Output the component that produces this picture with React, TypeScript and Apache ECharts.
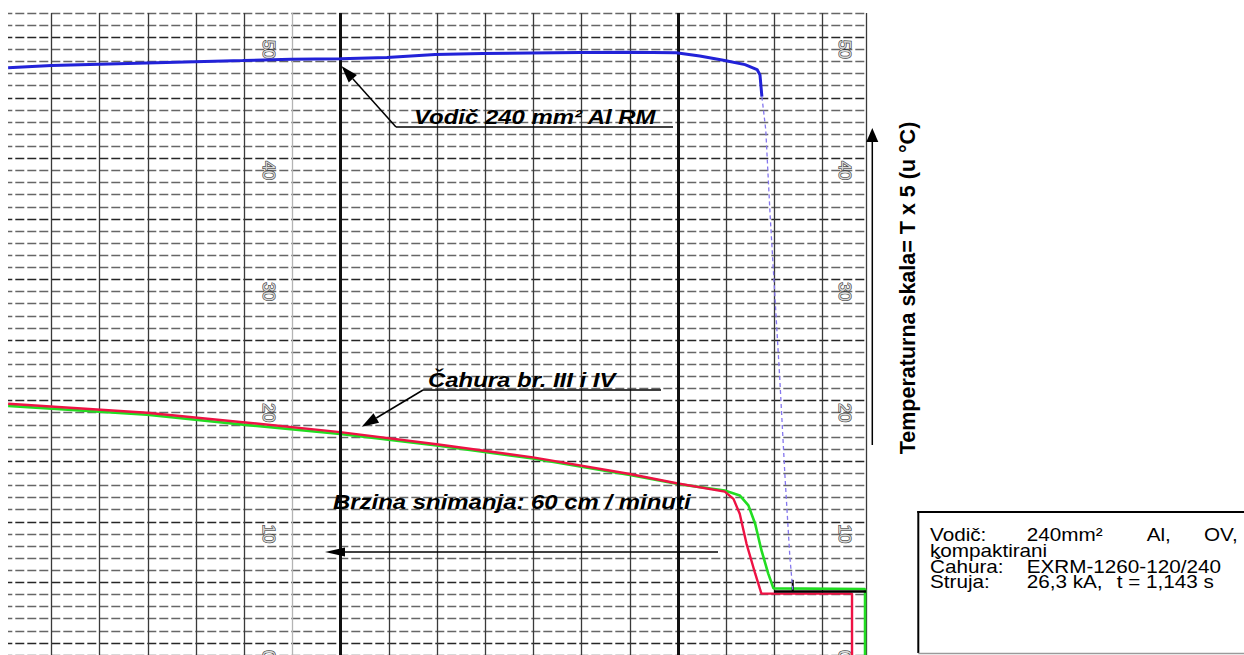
import React, { useEffect, useRef } from "react";
import * as echarts from "echarts";

// Chart-paper traces: [grid column, temperature scale value]
const blueTrace: number[][] = [
  [0.1, 48.49], [1.0, 48.67], [2.98, 48.88], [4.97, 49.07], [5.97, 49.18],
  [6.99, 49.23], [7.96, 49.33], [8.96, 49.57], [9.95, 49.66], [10.95, 49.7],
  [11.97, 49.74], [12.98, 49.75], [13.96, 49.72], [14.45, 49.45], [14.97, 49.08],
  [15.39, 48.74], [15.64, 48.33], [15.7, 47.89], [15.74, 46.09],
];
const blueFall: number[][] = [
  [15.74, 46.09], [15.82, 43.37], [15.91, 36.35], [16.11, 22.87],
  [16.22, 14.67], [16.32, 8.1], [16.38, 5.4],
];
const redTrace: number[][] = [
  [0.1, 20.74], [2.98, 20.0], [4.97, 19.22], [6.99, 18.4], [8.99, 17.4],
  [10.99, 16.31], [13.0, 14.94], [13.97, 14.18], [14.97, 13.49], [15.15, 12.89],
  [15.28, 11.66], [15.42, 9.2], [15.6, 6.73], [15.73, 5.07], [17.61, 5.07], [17.61, -1],
];
const greenTrace: number[][] = [
  [0.1, 20.57], [2.98, 19.84], [4.98, 19.02], [6.99, 18.24], [8.99, 17.29],
  [10.99, 16.22], [13.0, 14.87], [13.97, 14.13], [14.97, 13.58], [15.28, 13.17],
  [15.46, 12.35], [15.6, 10.84], [15.73, 8.65], [15.87, 6.74], [15.98, 5.5],
  [17.88, 5.45], [17.88, -1],
];
const penTrace: number[][] = [[15.99, 5.25], [17.9, 5.25]];
const penTick: number[][] = [[16.38, 6.2], [16.38, 5.25]];

const scaleLabels = [50, 40, 30, 20, 10, 0];
const labelColumns = [5.5, 17.46];
const heavyColumns = [7, 14];

const FONT = '"Liberation Sans", Arial, Helvetica, sans-serif';
const STRETCH = 1.14;

function buildOption() {
  const xColors: string[] = [];
  for (let i = 0; i <= 18; i++) xColors.push(i === 5 ? "#b4b4b4" : "#3a3a3a");
  const yColors: string[] = [];
  for (let v = 0; v <= 53; v++) yColors.push(v % 5 === 1 ? "#262626" : "#666666");

  const labelData: number[][] = [];
  labelColumns.forEach((c) => scaleLabels.forEach((v) => labelData.push([c, v])));

  const txt = (text: string, x: number, y: number, font: string, extra: any = {}) => {
    const { style, ...rest } = extra;
    return {
      type: "text",
      x,
      y,
      z: 10,
      ...rest,
      style: { text, font, fill: "#000", align: "left", verticalAlign: "middle", ...(style || {}) },
    };
  };
  const ln = (x1: number, y1: number, x2: number, y2: number, w = 1.5, c = "#000") => ({
    type: "line",
    z: 10,
    shape: { x1, y1, x2, y2 },
    style: { stroke: c, lineWidth: w },
  });
  const head = (pts: number[][]) => ({
    type: "polygon",
    z: 10,
    shape: { points: pts },
    style: { fill: "#000" },
  });

  const annFont = `italic bold 21px ${FONT}`;
  const boxFont = `18px ${FONT}`;
  const ann = { scaleX: STRETCH };
  const box = { scaleX: 1.15, style: { lineHeight: 15 } };

  return {
    animation: false,
    backgroundColor: "#ffffff",
    grid: { left: 3.3, right: 378, top: 13, bottom: -4 },
    xAxis: {
      type: "value",
      min: 0,
      max: 17.9,
      interval: 1,
      axisLine: { show: false },
      axisTick: { show: false },
      axisLabel: { show: false },
      splitLine: {
        show: true,
        showMinLine: false,
        lineStyle: { color: xColors, width: 1.3 },
      },
    },
    yAxis: {
      type: "value",
      min: 0,
      max: 53,
      interval: 1,
      axisLine: { show: false },
      axisTick: { show: false },
      axisLabel: { show: false },
      splitLine: {
        show: true,
        lineStyle: { color: yColors, width: 1.4, type: [9, 3] },
      },
    },
    series: [
      {
        type: "scatter",
        data: labelData,
        symbol: "circle",
        symbolSize: 1,
        itemStyle: { color: "rgba(0,0,0,0)" },
        z: 1,
        label: {
          show: true,
          position: "inside",
          rotate: -90,
          formatter: (p: any) => String(p.value[1]),
          fontFamily: FONT,
          fontSize: 17,
          color: "#ffffff",
          textBorderColor: "#1a1a1a",
          textBorderWidth: 1.4,
        },
        markLine: {
          silent: true,
          symbol: "none",
          label: { show: false },
          lineStyle: { color: "#111", width: 3, type: "solid" },
          data: heavyColumns.map((c) => ({ xAxis: c })),
        },
      },
      {
        type: "line",
        data: greenTrace,
        symbol: "none",
        lineStyle: { color: "#22dd22", width: 2.6 },
        z: 3,
      },
      {
        type: "line",
        data: redTrace,
        symbol: "none",
        lineStyle: { color: "#ee1244", width: 2.4 },
        z: 4,
      },
      {
        type: "line",
        data: penTrace,
        symbol: "none",
        lineStyle: { color: "#000", width: 2.5 },
        z: 5,
      },
      {
        type: "line",
        data: penTick,
        symbol: "none",
        lineStyle: { color: "#000", width: 2 },
        z: 5,
      },
      {
        type: "line",
        data: blueFall,
        symbol: "none",
        lineStyle: { color: "#8476ee", width: 1.3, type: [4, 3] },
        z: 5,
      },
      {
        type: "line",
        data: blueTrace,
        symbol: "none",
        lineStyle: { color: "#2222d8", width: 3 },
        z: 6,
      },
    ],
    graphic: [
      { type: "rect", z: 1, shape: { x: 0, y: 0, width: 8, height: 655 }, style: { fill: "#fff" } },
      // Vodič annotation
      txt("Vodič 240 mm² Al RM", 414, 117, annFont, ann),
      ln(396, 127, 673, 127),
      ln(396, 127, 352.8, 78.7),
      head([[341.5, 66], [356.9, 75.0], [348.7, 82.4]]),
      // Čahura annotation
      txt("Čahura br. III i IV", 428, 380, annFont, ann),
      ln(423, 390, 661, 390),
      ln(423, 390, 376.3, 418),
      head([[361.7, 426.7], [373.5, 413.3], [379.1, 422.7]]),
      // speed annotation
      txt("Brzina snimanja: 60 cm / minuti", 333, 502, annFont, ann),
      ln(718, 552, 343, 552),
      head([[325, 552], [345, 547.5], [345, 556.5]]),
      // temperature scale arrow and label
      ln(872.3, 445, 872.3, 140),
      head([[872.3, 128], [866.3, 142], [878.3, 142]]),
      txt("Temperaturna skala= T x 5 (u °C)", 908, 288, `bold 21.5px ${FONT}`, {
        rotation: Math.PI / 2,
        style: { align: "center" },
      }),
      // info box
      ln(918.3, 511, 918.3, 653, 2),
      ln(917.3, 512, 1244, 512, 2),
      ln(918.3, 653.5, 1244, 653.5, 1.5, "#9a9a9a"),
      txt("Vodič:", 930, 534.3, boxFont, box),
      txt("240mm²", 1026.7, 534.3, boxFont, box),
      txt("Al,", 1146.7, 534.3, boxFont, box),
      txt("OV,", 1204, 534.3, boxFont, box),
      txt("kompaktirani", 930, 550.3, boxFont, box),
      txt("Čahura:", 930, 566.9, boxFont, box),
      txt("EXRM-1260-120/240", 1026.7, 566.9, boxFont, box),
      txt("Struja:", 930, 581.9, boxFont, box),
      txt("26,3 kA,", 1026.7, 581.9, boxFont, box),
      txt("t = 1,143 s", 1116.7, 581.9, boxFont, box),
    ],
  };
}

export default function App() {
  const ref = useRef<HTMLDivElement>(null);
  useEffect(() => {
    if (!ref.current) return;
    const chart = echarts.init(ref.current, null, { renderer: "svg" });
    chart.setOption(buildOption() as any);
    return () => chart.dispose();
  }, []);
  return (
    <div
      ref={ref}
      style={{ position: "fixed", left: 0, top: 0, width: 1244, height: 655, background: "#fff" }}
    />
  );
}
